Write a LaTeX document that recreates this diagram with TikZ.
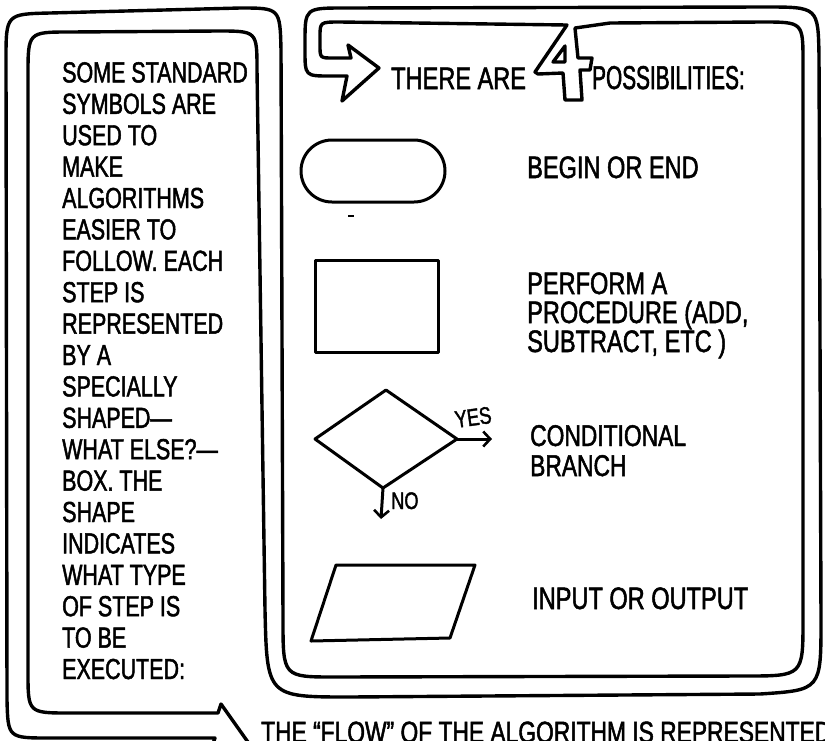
\documentclass[tikz,border=0pt]{standalone}
\usepackage{fontspec}
\newfontfamily\handl[FakeStretch=0.74,FakeBold=1.6]{Liberation Sans}
\newfontfamily\handr[FakeStretch=0.76,FakeBold=1.6]{Liberation Sans}
\newfontfamily\handn[FakeStretch=0.63,FakeBold=1.6]{Liberation Sans}
\usetikzlibrary{arrows.meta}
\tikzset{
  ribbon/.style={draw=black, line width=3.4pt, line join=round, line cap=round},
  shp/.style={draw=black, line width=3pt, line join=round, line cap=round},
  lt/.style={font=\handl\fontsize{29}{31}\selectfont, inner sep=0pt, anchor=base west},
  rt/.style={font=\handr\fontsize{31}{33}\selectfont, inner sep=0pt, anchor=base west},
  ct/.style={font=\handr\fontsize{30}{32}\selectfont, inner sep=0pt, anchor=base west},
  tt/.style={font=\handr\fontsize{31}{33}\selectfont, inner sep=0pt, anchor=base west},
  tn/.style={font=\handn\fontsize{33}{35}\selectfont, inner sep=0pt, anchor=base west},
  st/.style={font=\handr\fontsize{24}{26}\selectfont, inner sep=0pt, anchor=base west},
  bt/.style={font=\handr\fontsize{30}{32}\selectfont, inner sep=0pt, anchor=base west},
  barb/.style={-{Straight Barb[length=7pt,width=15pt,line width=2.6pt]}}
}
\begin{document}
\begin{tikzpicture}[x=1pt,y=-1pt]
\useasboundingbox (0,0) rectangle (825,740);
\clip (0,0) rectangle (825,740);
\fill[white] (0,0) rectangle (825,740);

% ---------- the ribbon (one closed band, arrow at each end) ----------
\draw[ribbon]
  (255,752) -- (221,704) -- (218,713)
  -- (70,713) .. controls (28,713) .. (28,672)
  -- (28,75) .. controls (28,32) .. (70,32)
  -- (218,31) .. controls (257,31) .. (257,70)
  -- (265,610) .. controls (267,697) .. (350,697)
  -- (760,694) .. controls (821,690) .. (821,620)
  -- (819,55) .. controls (818,7) .. (765,7)
  -- (345,8) .. controls (305,8) .. (305,42)
  -- (305,50) .. controls (305,76) .. (330,76)
  -- (347,76) -- (342,101) -- (379,68) -- (348,45) -- (351,58)
  -- (333,58) .. controls (320,58) .. (320,45)
  -- (320,37) .. controls (320,22) .. (340,22)
  -- (567,25)
  -- (535,72) -- (538,74) -- (563,73) -- (565,100) -- (582,100) -- (580,70)
  -- (590,70) -- (592,58) -- (578,58) -- (575,28)
  -- (610,23) -- (762,22) .. controls (803,22) .. (803,62)
  -- (803,620) .. controls (803,676) .. (745,676)
  -- (335,677) .. controls (283,677) .. (283,620)
  -- (281,50) .. controls (280,8) .. (240,8)
  -- (50,13) .. controls (6,14) .. (6,60)
  -- (7,700) .. controls (8,738) .. (50,738)
  -- (215,738) -- (205,765) -- cycle;
% hole of the 4
\draw[ribbon] (553,62) -- (565,46) -- (565,62) -- cycle;

% ---------- left panel text ----------
\foreach \t [count=\i] in {SOME STANDARD, SYMBOLS ARE, USED TO, MAKE, ALGORITHMS,
  EASIER TO, FOLLOW. EACH, STEP IS, REPRESENTED, BY A, SPECIALLY, SHAPED—,
  WHAT ELSE?—, BOX. THE, SHAPE, INDICATES, WHAT TYPE, OF STEP IS, TO BE, EXECUTED:}
  \node[lt] (l\i) at (62,{82.4+(\i-1)*31.4}) {\t};

% ---------- heading ----------
\node[tt] (there) at (391,89) {THERE ARE};
\node[tn] (poss) at (592,89) {POSSIBILITIES:};

% ---------- symbols ----------
\node[shp, rounded corners=31pt, minimum width=144pt, minimum height=62pt, inner sep=0pt] (term) at (373,171) {};
\draw[line width=2pt] (348,216) -- (354,216);
\node[shp, minimum width=123pt, minimum height=92pt, inner sep=0pt] (proc) at (376.5,306) {};

\coordinate (dL) at (315,439);
\coordinate (dT) at (386,390);
\coordinate (dR) at (457,439);
\coordinate (dB) at (383,488);
\draw[shp] (dL) -- (dT) -- (dR) -- (dB) -- cycle;
\coordinate (yesE) at (492,439);
\coordinate (noE) at (381,519);
\draw[shp, barb] (dR) -- (yesE);
\draw[shp, barb] (dB) -- (noE);
\node[st, rotate=8] (yes) at (456,428) {YES};
\node[st] (no) at (391,509) {NO};

\coordinate (pA) at (336,565);
\coordinate (pB) at (475,565);
\coordinate (pC) at (450,638);
\coordinate (pD) at (311,641);
\draw[shp] (pA) -- (pB) -- (pC) -- (pD) -- cycle;

% ---------- descriptions ----------
\node[rt] (be) at (527,178) {BEGIN OR END};
\node[rt] (pf1) at (527,294) {PERFORM A};
\node[rt] (pf2) at (527,323) {PROCEDURE (ADD,};
\node[rt] (pf3) at (527,352) {SUBTRACT, ETC )};
\node[ct] (cb1) at (530,446) {CONDITIONAL};
\node[ct] (cb2) at (530,476) {BRANCH};
\node[rt] (io) at (532,609) {INPUT OR OUTPUT};

% ---------- bottom caption (cut by the frame) ----------
\node[bt] (flow) at (261,742.5) {THE “FLOW” OF THE ALGORITHM IS REPRESENTED};
\end{tikzpicture}
\end{document}
